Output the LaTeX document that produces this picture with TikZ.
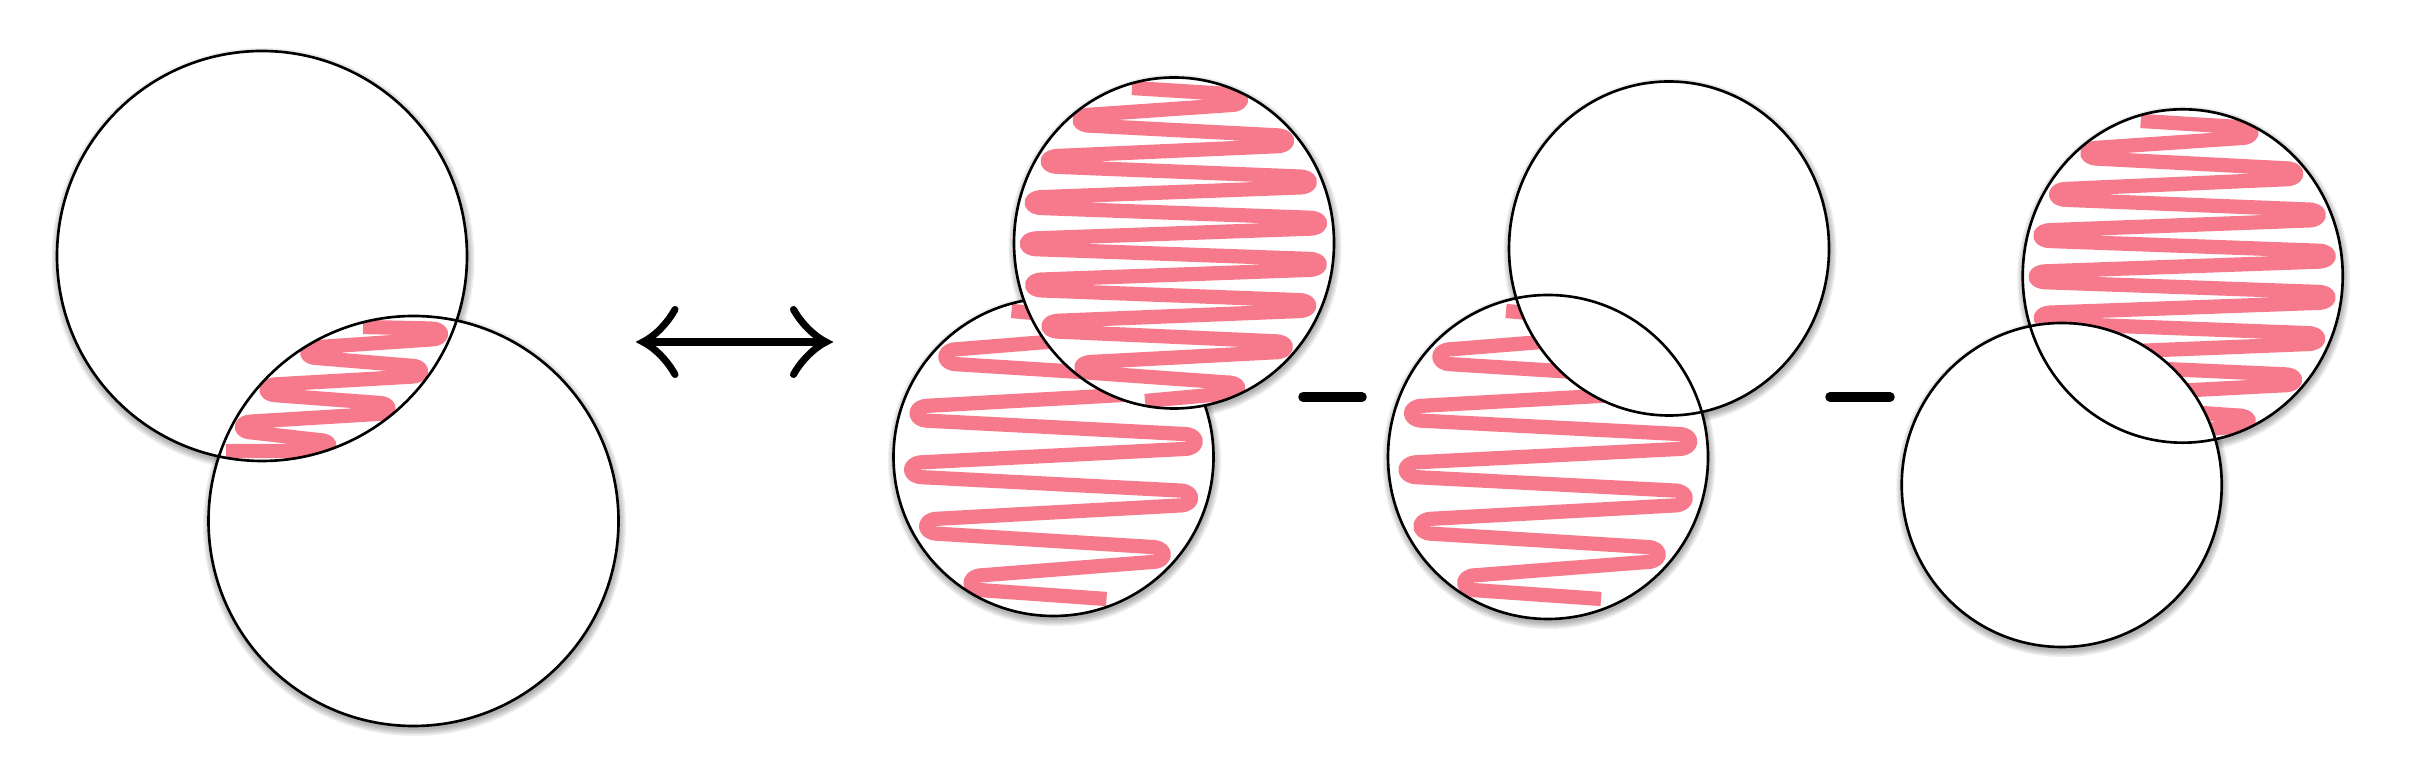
\documentclass[tikz,border=0pt]{standalone}
\definecolor{springpink}{RGB}{246,122,140}
\tikzset{
  outline/.style={draw=black, line width=0.75pt},
  spring/.style={draw=springpink, line width=4.05pt, line join=round, line cap=butt},
  bigsym/.style={draw=black, line width=2pt, line cap=round},
  minusbar/.style={draw=black, line width=2.7pt, line cap=round},
}
% blurred drop shadow: centre x, centre y, x radius, y radius
\newcommand\softshadow[4]{%
  \foreach \s in {0.5,2,3.5,5,6.5}{%
    \pgfmathsetmacro\shrx{#3+\s}\pgfmathsetmacro\shry{#4+\s}%
    \fill[black, fill opacity=0.065] ({#1+1},{#2+3.5}) ellipse [x radius=\shrx, y radius=\shry];
  }}
% cap half height \spr and cap control length \spk are set before use
% #1 cx, #2 cy, #3 rx, #4 ry, #5 inset of cap start, #6 first turn (rel y), #7 turn spacing, #8 number of turns
\newcommand\buildspring[8]{%
  \gdef\sppath{}%
  \foreach \i in {1,...,#8}{%
    \pgfmathsetmacro\spsg{1-2*mod(\i+1,2)}%
    \pgfmathsetmacro\spyi{#2+#6+(\i-1)*#7}%
    \pgfmathsetmacro\sphw{#3*sqrt(1-((\spyi-#2)/#4)*((\spyi-#2)/#4))}%
    \pgfmathsetmacro\spxa{#1+\spsg*(\sphw-#5)}%
    \pgfmathsetmacro\spxc{\spxa+\spsg*\spk}%
    \pgfmathsetmacro\spya{\spyi-\spr}\pgfmathsetmacro\spyb{\spyi+\spr}%
    \xdef\sppath{\sppath -- (\spxa,\spya) .. controls (\spxc,\spya) and (\spxc,\spyb) .. (\spxa,\spyb)}%
  }}
% coil in the lens of the first pair
\newcommand\buildlens{%
  \gdef\sppath{}%
  \foreach \i in {1,...,7}{%
    \pgfmathsetmacro\spsg{1-2*mod(\i+1,2)}%
    \pgfmathsetmacro\spyi{334+(\i-1)*18.6}%
    \pgfmathsetmacro\spR{262+205*sqrt(1-((\spyi-256)/205)*((\spyi-256)/205))}%
    \pgfmathsetmacro\spL{413.5-205*sqrt(1-((\spyi-521)/205)*((\spyi-521)/205))}%
    \pgfmathsetmacro\spxa{0.5*(1+\spsg)*(\spR-21)+0.5*(1-\spsg)*(\spL+21)}%
    \pgfmathsetmacro\spxc{\spxa+\spsg*\spk}%
    \pgfmathsetmacro\spya{\spyi-\spr}\pgfmathsetmacro\spyb{\spyi+\spr}%
    \xdef\sppath{\sppath -- (\spxa,\spya) .. controls (\spxc,\spya) and (\spxc,\spyb) .. (\spxa,\spyb)}%
  }}
% dense coil (upper discs): cx, cy, ry
\newcommand\springCG[3]{%
  \def\spr{5.5}\def\spk{15}%
  \buildspring{#1}{#2}{160}{#3}{24}{-143.4}{20.6}{15}%
  \draw[spring] ({#1-42},{#2-155}) \sppath -- ({#1-29},{#2+158});}
% looser coil (lower discs): cx, cy, ry
\newcommand\springDE[3]{%
  \def\spr{7.5}\def\spk{16}%
  \buildspring{#1}{#2}{160}{#3}{29}{-128.5}{28.25}{10}%
  \draw[spring] ({#1-42},{#2-146}) \sppath -- ({#1+53},{#2+142});}
\begin{document}
\begin{tikzpicture}[x=0.01cm, y=-0.01cm]
\useasboundingbox (0,0) rectangle (2410,771);
% centres
\coordinate (A) at (262,256);
\coordinate (B) at (413.5,521);
\coordinate (C) at (1174,243);
\coordinate (D) at (1053.5,457);
\coordinate (E) at (1548,457);
\coordinate (F) at (1669,248.5);
\coordinate (G) at (2182.7,276);
\coordinate (H) at (2061.7,485);

% shadows
\softshadow{262}{256}{205}{205}
\softshadow{413.5}{521}{205}{205}
\softshadow{1174}{243}{160}{165.5}
\softshadow{1053.5}{457}{160}{159}
\softshadow{1548}{457}{160}{162}
\softshadow{1669}{248.5}{160}{167}
\softshadow{2182.7}{276}{160}{166.7}
\softshadow{2061.7}{485}{160}{162}

% group 1
\fill[white] (A) circle [radius=205];
\fill[white] (B) circle [radius=205];
\begin{scope}
  \clip (A) circle [radius=205];
  \clip (B) circle [radius=205];
  \def\spr{5.5}\def\spk{14}%
  \buildlens
  \draw[spring] (363,327) \sppath -- (226,451);
\end{scope}
\draw[outline] (A) circle [radius=205];
\draw[outline] (B) circle [radius=205];

% arrow
\coordinate (arL) at (643,342);
\coordinate (arR) at (826,342);
\draw[bigsym, line cap=butt] (arL) -- (arR);
\draw[bigsym, line join=miter] (675,309.5) .. controls (669,320.5) and (657,335) .. (arL)
  .. controls (657,349) and (669,363.5) .. (675,374.5);
\draw[bigsym, line join=miter] (793.5,309.5) .. controls (799.5,320.5) and (812,335) .. (arR)
  .. controls (812,349) and (799.5,363.5) .. (793.5,374.5);

% group 2
\fill[white] (D) ellipse [x radius=160, y radius=159];
\begin{scope}
  \clip (D) ellipse [x radius=160, y radius=159];
  \springDE{1053.5}{457}{161}
\end{scope}
\draw[outline] (D) ellipse [x radius=160, y radius=159];
\fill[white] (C) ellipse [x radius=160, y radius=165.5];
\begin{scope}
  \clip (C) ellipse [x radius=160, y radius=165.5];
  \springCG{1174}{243}{165.5}
\end{scope}
\draw[outline] (C) ellipse [x radius=160, y radius=165.5];

% minus 1
\coordinate (m1a) at (1303,397);
\coordinate (m1b) at (1362,397);
\draw[minusbar] (m1a) -- (m1b);

% group 3
\fill[white] (E) ellipse [x radius=160, y radius=162];
\begin{scope}
  \clip (E) ellipse [x radius=160, y radius=162];
  \springDE{1548}{457}{162}
\end{scope}
\fill[white] (F) ellipse [x radius=160, y radius=167];
\draw[outline] (E) ellipse [x radius=160, y radius=162];
\draw[outline] (F) ellipse [x radius=160, y radius=167];

% minus 2
\coordinate (m2a) at (1830,397);
\coordinate (m2b) at (1890,397);
\draw[minusbar] (m2a) -- (m2b);

% group 4
\fill[white] (G) ellipse [x radius=160, y radius=166.7];
\begin{scope}
  \clip (G) ellipse [x radius=160, y radius=166.7];
  \springCG{2182.7}{276}{166.7}
\end{scope}
\fill[white] (H) ellipse [x radius=160, y radius=162];
\draw[outline] (G) ellipse [x radius=160, y radius=166.7];
\draw[outline] (H) ellipse [x radius=160, y radius=162];
\end{tikzpicture}
\end{document}
